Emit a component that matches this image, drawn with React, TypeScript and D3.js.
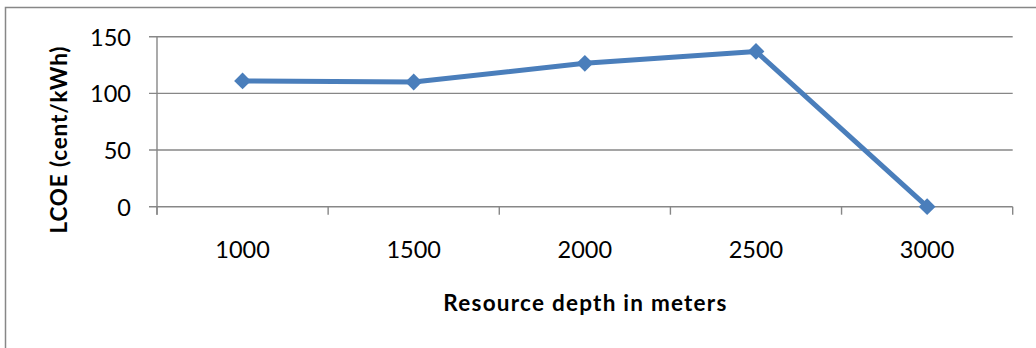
import React from "react";
import * as d3 from "d3";

// Resource depth categories (m) and levelized cost of electricity (cent/kWh)
const depths: string[] = ["1000", "1500", "2000", "2500", "3000"];
const lcoe: number[] = [111, 110, 126.5, 137, 0];
const yTicks: number[] = [0, 50, 100, 150];

const W = 1036;
const H = 348;
const plot = { left: 157, right: 1012.7, top: 36.7, bottom: 206.7 };
const FONT = "Lato, 'Open Sans', sans-serif";
const GRID = "#878787";
const BLUE = "#4a7ebb";

export default function App() {
  const x = d3.scaleBand<string>().domain(depths).range([plot.left, plot.right]).padding(0);
  const y = d3.scaleLinear().domain([0, 150]).range([plot.bottom, plot.top]);
  const cx = (d: string) => (x(d) ?? 0) + x.bandwidth() / 2;

  const pts: [number, number][] = depths.map((d, i) => [cx(d), y(lcoe[i])]);
  const line = d3.line<[number, number]>().x((p) => p[0]).y((p) => p[1]);
  const diamond = d3.symbol().type(d3.symbolDiamond2).size(2 * 9.5 * 9.5);

  const boundaries = [...depths.map((d) => x(d) ?? 0), plot.right];

  return (
    <svg
      width={W}
      height={H}
      style={{ position: "absolute", left: 0, top: 0, background: "#fff" }}
      fontFamily={FONT}
    >
      <rect x={5.5} y={7.5} width={W + 10} height={H + 10} fill="#fff" stroke={GRID} strokeWidth={1.5} />

      {/* horizontal gridlines with left tick marks */}
      {yTicks.map((t) => (
        <g key={t}>
          <line x1={plot.left - 8} x2={plot.right} y1={y(t)} y2={y(t)} stroke={GRID} strokeWidth={1.4} />
          <text
            x={131}
            y={y(t)}
            textAnchor="end"
            dominantBaseline="central"
            fontSize={23.5}
            fill="#000"
          >
            {t}
          </text>
        </g>
      ))}

      {/* vertical axis */}
      <line x1={plot.left} x2={plot.left} y1={plot.top} y2={plot.bottom + 8} stroke={GRID} strokeWidth={1.4} />

      {/* category boundary ticks */}
      {boundaries.map((bx, i) => (
        <line key={i} x1={bx} x2={bx} y1={plot.bottom} y2={plot.bottom + 8} stroke={GRID} strokeWidth={1.4} />
      ))}

      {/* category labels */}
      {depths.map((d) => (
        <text key={d} x={cx(d)} y={249} textAnchor="middle" dominantBaseline="central" fontSize={23.5} fill="#000">
          {d}
        </text>
      ))}

      {/* series line and markers */}
      <path d={line(pts) ?? ""} fill="none" stroke={BLUE} strokeWidth={5} strokeLinejoin="round" />
      {pts.map((p, i) => (
        <path key={i} d={diamond() ?? ""} transform={`translate(${p[0]},${p[1]})`} fill={BLUE} />
      ))}

      {/* axis titles */}
      <text
        x={(plot.left + plot.right) / 2}
        y={302}
        textAnchor="middle"
        dominantBaseline="central"
        fontSize={22.5}
        fontWeight="bold"
        fill="#000"
        textLength={283}
        lengthAdjust="spacing"
      >
        Resource depth in meters
      </text>
      <text
        transform={`translate(58,140) rotate(-90)`}
        textAnchor="middle"
        dominantBaseline="central"
        fontSize={22.5}
        fontWeight="bold"
        fill="#000"
        textLength={187}
        lengthAdjust="spacing"
      >
        LCOE (cent/kWh)
      </text>
    </svg>
  );
}
